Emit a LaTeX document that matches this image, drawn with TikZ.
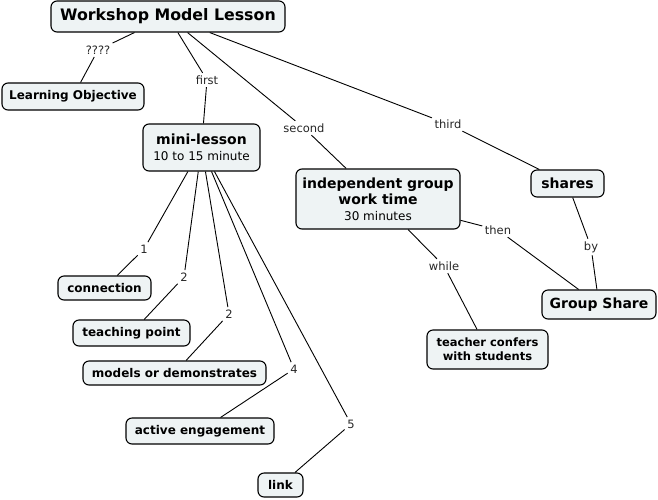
\documentclass[tikz,border=0pt]{standalone}
\usepackage{fontspec}
\setmainfont{DejaVu Sans}
\definecolor{boxfill}{HTML}{EEF3F4}
\begin{document}
\begin{tikzpicture}[x=1pt,y=-1pt,
  concept/.style={draw=black,line width=1.1pt,fill=boxfill,rounded corners=6pt,
    inner sep=0pt,align=center,font=\fontsize{12}{14}\selectfont\bfseries},
  bigconcept/.style={concept,font=\fontsize{14}{17}\selectfont\bfseries},
  lbl/.style={inner sep=2.5pt,font=\fontsize{11.5}{13}\selectfont,text=black!85},
  conn/.style={draw=black,line width=0.9pt}]
\useasboundingbox (0,0) rectangle (658,499);
% concepts
\node[concept,font=\fontsize{15.8}{18}\selectfont\bfseries,minimum width=234pt,minimum height=31pt] (wml) at (168,16.5) {Workshop Model Lesson};
\node[concept,minimum width=142pt,minimum height=27pt] (lo) at (73,96.5) {Learning Objective};
\node[bigconcept,minimum width=117pt,minimum height=47pt] (mini) at (201.5,147.5) {mini-lesson\\[-1pt]{\mdseries\fontsize{12}{14}\selectfont 10 to 15 minute}};
\node[bigconcept,minimum width=164pt,minimum height=60pt] (indep) at (378,199) {independent group\\[-1pt]work time\\[-1pt]{\mdseries\fontsize{12}{14}\selectfont 30 minutes}};
\node[bigconcept,minimum width=73pt,minimum height=27pt] (shares) at (567.5,183.5) {shares};
\node[bigconcept,minimum width=114pt,minimum height=29pt] (gs) at (599,304.5) {Group Share};
\node[concept,font=\fontsize{11.5}{14}\selectfont\bfseries,minimum width=121pt,minimum height=39pt] (tc) at (487.5,349.5) {teacher confers\\with students};
\node[concept,minimum width=93pt,minimum height=24pt] (cn) at (104.5,288) {connection};
\node[concept,minimum width=117pt,minimum height=26pt] (tp) at (131.5,333) {teaching point};
\node[concept,minimum width=183pt,minimum height=24pt] (md) at (174.5,373) {models or demonstrates};
\node[concept,minimum width=148pt,minimum height=26pt] (ae) at (200,431) {active engagement};
\node[concept,minimum width=45pt,minimum height=24pt] (lk) at (280.5,485) {link};
% linking phrases
\node[lbl] (q) at (98,50) {????};
\node[lbl] (first) at (207,80) {first};
\node[lbl] (second) at (304,128) {second};
\node[lbl] (third) at (448,124) {third};
\node[lbl] (l1) at (144,249) {1};
\node[lbl] (l2a) at (184,277) {2};
\node[lbl] (l2b) at (229,314) {2};
\node[lbl] (l4) at (294,369) {4};
\node[lbl] (l5) at (351,424) {5};
\node[lbl] (then) at (498,230) {then};
\node[lbl] (by) at (591,247) {by};
\node[lbl] (while) at (444,266) {while};
% connectors
\draw[conn] (wml) -- (q);  \draw[conn] (q) -- (lo);
\draw[conn] (wml) -- (first);  \draw[conn] (first) -- (mini);
\draw[conn] (wml) -- (second);  \draw[conn] (second) -- (indep);
\draw[conn] (wml) -- (third);  \draw[conn] (third) -- (shares);
\draw[conn] (mini) -- (l1);  \draw[conn] (l1) -- (cn);
\draw[conn] (mini) -- (l2a);  \draw[conn] (l2a) -- (tp);
\draw[conn] (mini) -- (l2b);  \draw[conn] (l2b) -- (md);
\draw[conn] (mini) -- (l4);  \draw[conn] (l4) -- (ae);
\draw[conn] (mini) -- (l5);  \draw[conn] (l5) -- (lk);
\draw[conn] (indep) -- (then);  \draw[conn] (then) -- (gs);
\draw[conn] (indep) -- (while);  \draw[conn] (while) -- (tc);
\draw[conn] (shares) -- (by);  \draw[conn] (by) -- (gs);
\end{tikzpicture}
\end{document}
